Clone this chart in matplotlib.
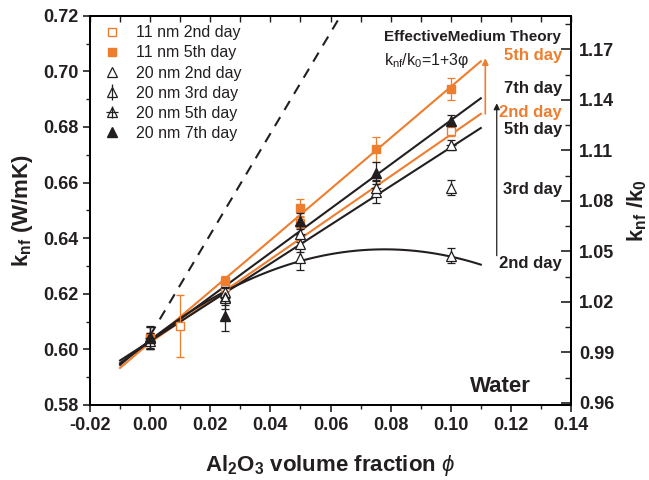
import matplotlib
matplotlib.use('Agg')
import matplotlib.pyplot as plt
from matplotlib.lines import Line2D
from matplotlib.ticker import MultipleLocator
import numpy as np

plt.rcParams['font.family'] = ['Liberation Sans', 'DejaVu Sans']
plt.rcParams['mathtext.fontset'] = 'custom'
plt.rcParams['mathtext.rm'] = 'Liberation Sans'
plt.rcParams['mathtext.it'] = 'Liberation Sans:italic'
plt.rcParams['mathtext.bf'] = 'Liberation Sans:bold'

ORANGE = '#EE7D2E'
BLACK = '#231F20'
K0 = 0.605  # base-fluid conductivity used for the right axis

## Measured conductivities (W/mK) with error bars
phi_11_2 = [0.0, 0.01, 0.025, 0.05, 0.1]
k_11_2 = [0.604, 0.6085, 0.6225, 0.6455, 0.6787]
e_11_2 = [0.002, 0.0112, 0.002, 0.002, 0.002]

phi_11_5 = [0.0, 0.025, 0.05, 0.075, 0.1]
k_11_5 = [0.604, 0.6245, 0.651, 0.672, 0.6937]
e_11_5 = [0.002, 0.002, 0.003, 0.0045, 0.004]

phi_20_2 = [0.0, 0.025, 0.05, 0.1]
k_20_2 = [0.603, 0.6205, 0.6327, 0.6336]
e_20_2 = [0.003, 0.002, 0.004, 0.0027]

phi_20_3 = [0.0, 0.025, 0.05, 0.075, 0.1]
k_20_3 = [0.604, 0.619, 0.638, 0.6565, 0.6581]
e_20_3 = [0.004, 0.003, 0.003, 0.004, 0.0027]

phi_20_5 = [0.0, 0.025, 0.05, 0.075, 0.1]
k_20_5 = [0.604, 0.6185, 0.6415, 0.658, 0.6735]
e_20_5 = [0.004, 0.004, 0.003, 0.003, 0.0018]

phi_20_7 = [0.0, 0.025, 0.05, 0.075, 0.1]
k_20_7 = [0.6045, 0.612, 0.6462, 0.6635, 0.6823]
e_20_7 = [0.004, 0.0055, 0.003, 0.004, 0.002]

## Linear fits (end points) and the quadratic fit of the 20 nm 2nd day data
fit_phi = [-0.01, 0.11]
fit_11_5 = [0.5933, 0.7036]
fit_11_2 = [0.5950, 0.6847]
fit_20_7 = [0.5950, 0.6903]
fit_20_5 = [0.5960, 0.6796]
quad_20_2 = [-5.37, 0.8377, 0.6033]  # k = a*phi^2 + b*phi + c

# effective medium theory k/k0 = 1 + 3*phi
emt_phi = [0.0, 0.066]

# day labels next to the fit ends: (text, k, colour)
day_labels = [('5th day', 0.7057, ORANGE), ('7th day', 0.6938, BLACK),
              ('2nd day', 0.6853, ORANGE), ('5th day', 0.6791, BLACK),
              ('3rd day', 0.6575, BLACK), ('2nd day', 0.6310, BLACK)]

fig = plt.figure(figsize=(6.49, 4.8), dpi=100)
ax = fig.add_axes([0.1387, 0.1563, 0.7411, 0.811])

eb = dict(capsize=3.2, elinewidth=0.9, capthick=0.9, linestyle='none')

# fit lines
ax.plot(fit_phi, fit_11_5, color=ORANGE, lw=1.5, zorder=2)
ax.plot(fit_phi, fit_11_2, color=ORANGE, lw=1.5, zorder=2)
ax.plot(fit_phi, fit_20_7, color=BLACK, lw=1.5, zorder=2)
ax.plot(fit_phi, fit_20_5, color=BLACK, lw=1.5, zorder=2)
xq = np.linspace(fit_phi[0], fit_phi[1], 100)
ax.plot(xq, np.polyval(quad_20_2, xq), color=BLACK, lw=1.5, zorder=2)
ax.plot(emt_phi, [K0 * (1 + 3 * p) for p in emt_phi], color=BLACK, lw=1.5,
        ls=(0, (5, 4)), zorder=2)

# data points
ax.errorbar(phi_11_2, k_11_2, yerr=e_11_2, marker='s', ms=6, mfc='white',
            mec=ORANGE, mew=1.0, color=ORANGE, zorder=3, **eb)
ax.errorbar(phi_11_5, k_11_5, yerr=e_11_5, marker='s', ms=6, mfc=ORANGE,
            mec=ORANGE, color=ORANGE, zorder=3, **eb)
ax.errorbar(phi_20_2, k_20_2, yerr=e_20_2, marker='^', ms=7, mfc='white',
            mec=BLACK, mew=0.9, color=BLACK, zorder=4, **eb)
ax.errorbar(phi_20_3, k_20_3, yerr=e_20_3, marker='^', ms=7, mfc='white',
            mec=BLACK, mew=0.9, color=BLACK, zorder=4, **eb)
ax.errorbar(phi_20_5, k_20_5, yerr=e_20_5, marker='^', ms=7, mfc='white',
            mec=BLACK, mew=0.9, color=BLACK, zorder=4, **eb)
ax.plot(phi_20_5, k_20_5, marker='_', ms=7, mew=0.9, color=BLACK, ls='none', zorder=4)
ax.errorbar(phi_20_7, k_20_7, yerr=e_20_7, marker='^', ms=7, mfc=BLACK,
            mec=BLACK, color=BLACK, zorder=5, **eb)

# day arrows at the end of the fits
ax.annotate('', xy=(0.1115, 0.7047), xytext=(0.1115, 0.6847),
            arrowprops=dict(arrowstyle='-|>', color=ORANGE, lw=1.2,
                            mutation_scale=9, shrinkA=0, shrinkB=0))
ax.annotate('', xy=(0.1153, 0.6885), xytext=(0.1153, 0.6337),
            arrowprops=dict(arrowstyle='-|>', color=BLACK, lw=0.9,
                            mutation_scale=9, shrinkA=0, shrinkB=0))

for text, k, col in day_labels:
    ax.text(0.1370, k, text, color=col, ha='right', va='center',
            fontsize=12, fontweight='bold')

ax.text(0.0778, 0.7125, 'EffectiveMedium Theory', fontsize=11,
        fontweight='bold', color=BLACK, va='center')
ax.text(0.0778, 0.7038, r'k$_{\mathregular{nf}}$/k$_{\mathregular{0}}$=1+3$\mathregular{\varphi}$',
        fontsize=11.5, color=BLACK, va='center')
ax.text(0.1164, 0.5865, 'Water', fontsize=16, fontweight='bold', color=BLACK,
        ha='center', va='center')

# legend
h_open_sq = Line2D([], [], marker='s', ms=6, mfc='white', mec=ORANGE, ls='none')
h_full_sq = Line2D([], [], marker='s', ms=6, mfc=ORANGE, mec=ORANGE, ls='none')
h_open_tr = Line2D([], [], marker='^', ms=7, mfc='white', mec=BLACK, mew=0.9, ls='none')
h_bar = Line2D([], [], marker='|', ms=11, mew=0.9, color=BLACK, ls='none')
h_cross = Line2D([], [], marker='+', ms=9, mew=0.9, color=BLACK, ls='none')
h_full_tr = Line2D([], [], marker='^', ms=7, mfc=BLACK, mec=BLACK, ls='none')
ax.legend([h_open_sq, h_full_sq, h_open_tr, (h_open_tr, h_bar),
           (h_open_tr, h_cross), h_full_tr],
          ['11 nm 2nd day', '11 nm 5th day', '20 nm 2nd day', '20 nm 3rd day',
           '20 nm 5th day', '20 nm 7th day'],
          loc='upper left', bbox_to_anchor=(0.0, 1.008), frameon=False,
          fontsize=11.5, handlelength=1.2, handletextpad=0.9,
          labelspacing=0.32, borderaxespad=0.4, labelcolor=BLACK)

ax.set_xlim(-0.02, 0.14)
ax.set_ylim(0.58, 0.72)
ax.xaxis.set_major_locator(MultipleLocator(0.02))
ax.xaxis.set_minor_locator(MultipleLocator(0.01))
ax.yaxis.set_major_locator(MultipleLocator(0.02))
ax.yaxis.set_minor_locator(MultipleLocator(0.01))
ax.xaxis.set_major_formatter(plt.FuncFormatter(lambda v, p: f'{v:.2f}'))
ax.yaxis.set_major_formatter(plt.FuncFormatter(lambda v, p: f'{v:.2f}'))
ax.tick_params(axis='both', which='major', direction='out', length=5, width=1.2,
               labelsize=13, color=BLACK, labelcolor=BLACK)
ax.tick_params(axis='both', which='minor', direction='out', length=3, width=1.0,
               color=BLACK)
for t in ax.get_xticklabels() + ax.get_yticklabels():
    t.set_fontweight('bold')
    t.set_family(['Liberation Sans Narrow', 'Liberation Sans'])
for s in ax.spines.values():
    s.set_linewidth(1.4)
    s.set_color(BLACK)

# inward ticks along the top edge
top = ax.secondary_xaxis('top')
top.xaxis.set_major_locator(MultipleLocator(0.01))
top.tick_params(direction='in', length=4, width=1.0, labeltop=False, color=BLACK)
top.spines['top'].set_linewidth(1.4)

ax.set_xlabel(r'Al$_{\mathregular{2}}$O$_{\mathregular{3}}$ volume fraction $\phi$',
              fontsize=16, fontweight='bold', color=BLACK, labelpad=14)
ax.set_ylabel(r'k$_{\mathregular{nf}}$ (W/mK)', fontsize=16, fontweight='bold',
              color=BLACK, labelpad=6)

# normalised conductivity on the right
axr = ax.twinx()
axr.set_ylim(0.58 / K0, 0.72 / K0)
axr.yaxis.set_major_locator(MultipleLocator(0.03))
axr.yaxis.set_minor_locator(MultipleLocator(0.015))
axr.yaxis.set_major_formatter(plt.FuncFormatter(lambda v, p: f'{v:.2f}'))
axr.tick_params(axis='y', which='major', direction='in', length=7, width=1.2,
                labelsize=13, color=BLACK, labelcolor=BLACK, pad=6)
axr.tick_params(axis='y', which='minor', direction='in', length=4, width=1.0,
                color=BLACK)
for t in axr.get_yticklabels():
    t.set_fontweight('bold')
    t.set_family(['Liberation Sans Narrow', 'Liberation Sans'])
for s in axr.spines.values():
    s.set_linewidth(1.4)
axr.set_ylabel(r'k$_{\mathregular{nf}}$ /k$_{\mathregular{0}}$', fontsize=16,
               fontweight='bold', color=BLACK, labelpad=8)

fig.savefig('out.png', dpi=100)
